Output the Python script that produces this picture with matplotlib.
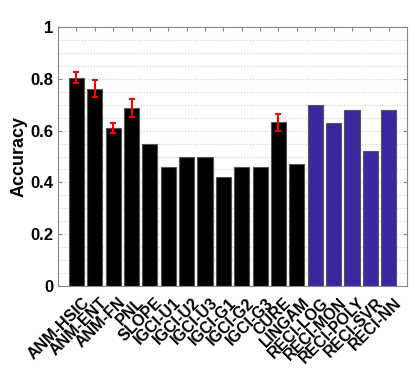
import matplotlib
matplotlib.use("Agg")
import matplotlib.pyplot as plt
import matplotlib.transforms as mtransforms
import numpy as np

methods = ["ANM-HSIC", "ANM-ENT", "ANM-FN", "PNL", "SLOPE", "IGCI-U1", "IGCI-U2",
           "IGCI-U3", "IGCI-G1", "IGCI-G2", "IGCI-G3", "CURE", "LINGAM",
           "RECI-LOG", "RECI-MON", "RECI-POLY", "RECI-SVR", "RECI-NN"]
accuracy = [0.805, 0.762, 0.610, 0.688, 0.55, 0.46, 0.50, 0.50, 0.42, 0.46, 0.46,
            0.632, 0.47, 0.70, 0.63, 0.68, 0.52, 0.68]
errors = [0.022, 0.032, 0.02, 0.034, 0, 0, 0, 0, 0, 0, 0, 0.033, 0, 0, 0, 0, 0, 0]
is_reci = [m.startswith("RECI") for m in methods]

plt.rcParams['font.family'] = ['Liberation Sans', 'DejaVu Sans']
plt.rcParams['font.weight'] = 'bold'

fig = plt.figure(figsize=(4.15, 3.7), dpi=100)
ax = fig.add_axes([0.1398, 0.227, 0.8412, 0.700])

x = np.arange(1, len(methods) + 1)
colors = ['#3b28a0' if r else 'black' for r in is_reci]
ax.bar(x, accuracy, width=0.82, color=colors, edgecolor='#555555', linewidth=0.8, zorder=2)
for xi, a, e in zip(x, accuracy, errors):
    if e > 0:
        ax.errorbar(xi, a, yerr=e, fmt='none', ecolor='red', elinewidth=1.5,
                    capsize=2.5, capthick=1.5, zorder=3)

ax.set_xlim(0, len(methods) + 1)
ax.set_ylim(0, 1)
ax.set_yticks([0, 0.2, 0.4, 0.6, 0.8, 1])
ax.set_yticklabels(['0', '0.2', '0.4', '0.6', '0.8', '1'], fontsize=12, fontweight='bold')
ax.set_yticks(np.arange(0, 1.001, 0.05), minor=True)
ax.grid(True, axis='y', which='both', linestyle=':', color='#d0d0d0', linewidth=0.8, zorder=0)
ax.set_xticks(x)
ax.set_xticklabels([])
offset = mtransforms.ScaledTranslation(5 / 100, -9 / 100, fig.dpi_scale_trans)
trans = ax.get_xaxis_transform() + offset
for xi, name in zip(x, methods):
    ax.text(xi, 0, name, transform=trans, rotation=45, ha='right', va='top',
            rotation_mode='anchor', fontsize=11.5, fontweight='bold', clip_on=False)
ax.tick_params(axis='both', which='major', direction='in', length=3, top=True, right=True,
               color='#888888')
ax.tick_params(axis='y', which='minor', length=0)
for s in ax.spines.values():
    s.set_color('#888888')
    s.set_linewidth(0.8)
ax.set_ylabel('Accuracy', fontsize=13, fontweight='bold', labelpad=2)

fig.savefig('out.png', dpi=100)
